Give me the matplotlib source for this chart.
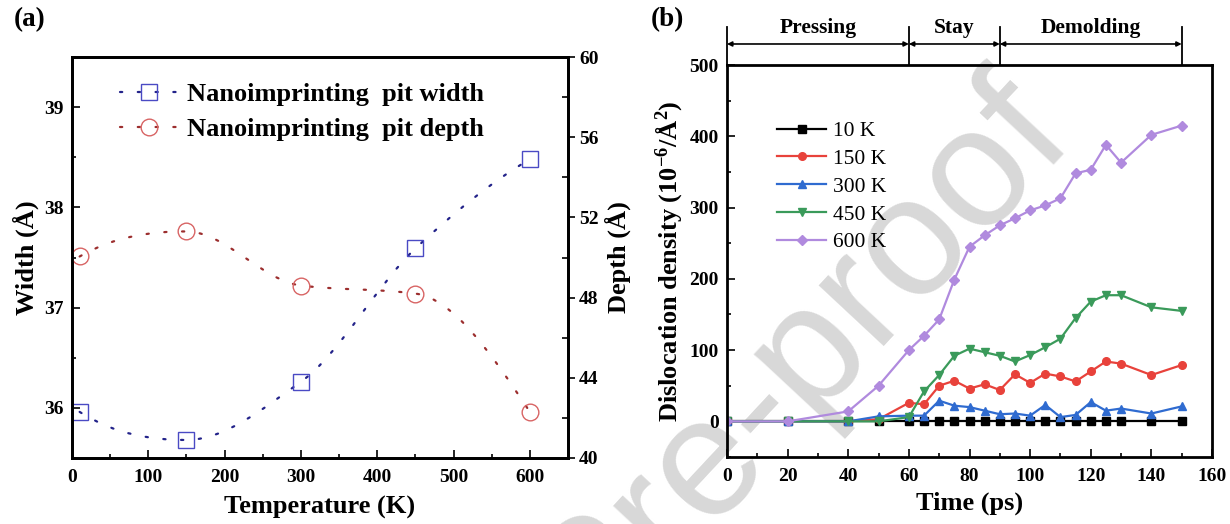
import numpy as np
import matplotlib
matplotlib.use('Agg')
import matplotlib.pyplot as plt
import matplotlib.transforms as mtransforms
from matplotlib.path import Path
from matplotlib.patches import PathPatch
from matplotlib.lines import Line2D

plt.rcParams['font.family'] = ['Liberation Serif', 'DejaVu Serif']
plt.rcParams['font.weight'] = 'bold'
plt.rcParams['axes.labelweight'] = 'bold'
plt.rcParams['mathtext.fontset'] = 'custom'
plt.rcParams['mathtext.rm'] = 'Liberation Serif:bold'
plt.rcParams['mathtext.bf'] = 'Liberation Serif:bold'
plt.rcParams['mathtext.it'] = 'Liberation Serif:bold:italic'


#####################################################################
# data (a)
#####################################################################
temp = [10, 150, 300, 450, 600]
pit_width = [35.96, 35.68, 36.26, 37.59, 38.48]
pit_depth = [50.05, 51.3, 48.6, 48.2, 42.3]

#####################################################################
# data (b)
#####################################################################
time_ps = [0, 20, 40, 50, 60, 65, 70, 75, 80, 85, 90, 95, 100, 105, 110,
           115, 120, 125, 130, 140, 150]
rho_10K = [0, 0, 0, 0, 0, 0, 0, 0, 0, 0, 0, 0, 0, 0, 0, 0, 0, 0, 0, 0, 0]
rho_150K = [0, 0, 0, 3, 26, 24, 50, 57, 46, 52, 44, 66, 54, 67, 63, 56, 70, 84, 81, 65, 79]
rho_300K = [0, 0, 0, 7, 8, 8, 29, 22, 20, 15, 10, 11, 8, 23, 6, 9, 27, 15, 18, 11, 21]
rho_450K = [0, 0, 0, 0, 6, 42, 65, 92, 102, 97, 92, 84, 93, 104, 116, 145, 168, 177, 177, 160, 155]
rho_600K = [0, 0, 14, 50, 100, 120, 143, 199, 245, 261, 275, 285, 296, 303, 313, 348, 353, 388, 363, 402, 415]
series_labels = ['10 K', '150 K', '300 K', '450 K', '600 K']
series_colors = ['#000000', '#e8423b', '#2f6bd0', '#3a9a5a', '#b08ade']
series_markers = ['s', 'o', '^', 'v', 'D']

phase_edges = [0, 60, 90, 150]
phase_names = ['Pressing', 'Stay', 'Demolding']


def pchip_slopes(x, y):
    h = np.diff(x)
    d = np.diff(y) / h
    n = len(x)
    m = np.zeros(n)
    for i in range(1, n - 1):
        if d[i - 1] * d[i] > 0:
            w1 = 2 * h[i] + h[i - 1]
            w2 = h[i] + 2 * h[i - 1]
            m[i] = (w1 + w2) / (w1 / d[i - 1] + w2 / d[i])
    for i, j, k in ((0, 0, 1), (n - 1, n - 2, n - 3)):
        s = ((2 * h[j] + h[k]) * d[j] - h[j] * d[k]) / (h[j] + h[k])
        if np.sign(s) != np.sign(d[j]):
            s = 0
        elif np.sign(d[j]) != np.sign(d[k]) and abs(s) > abs(3 * d[j]):
            s = 3 * d[j]
        m[i] = s
    return m


def spline_path(x, y):
    # smooth monotone connector drawn as cubic bezier segments
    x = np.asarray(x, float)
    y = np.asarray(y, float)
    m = pchip_slopes(x, y)
    verts = [(x[0], y[0])]
    codes = [Path.MOVETO]
    for i in range(len(x) - 1):
        h = x[i + 1] - x[i]
        verts += [(x[i] + h / 3, y[i] + m[i] * h / 3),
                  (x[i + 1] - h / 3, y[i + 1] - m[i + 1] * h / 3),
                  (x[i + 1], y[i + 1])]
        codes += [Path.CURVE4] * 3
    return Path(verts, codes)


def bold_ticks(ax):
    for lbl in ax.get_xticklabels() + ax.get_yticklabels():
        lbl.set_fontweight('bold')


W, H = 1230, 524
fig = plt.figure(figsize=(W / 100, H / 100), dpi=100)

# watermark
fig.text(799 / W, 1 - 359 / H, 'Pre-proof', rotation=47, fontsize=122,
         color='#d8d8d8', family='Liberation Sans', weight='normal',
         ha='center', va='center', rotation_mode='anchor', zorder=-10)

#####################################################################
# (a)
#####################################################################
ax1 = fig.add_axes([72 / W, 1 - 458 / H, 496 / W, 401 / H])
ax2 = ax1.twinx()
ax1.patch.set_visible(False)

dots = (0, (1, 7))
pw = PathPatch(spline_path(temp, pit_width), fill=False, edgecolor='#23238a',
               lw=1.6, linestyle=dots, capstyle='round')
ax1.add_patch(pw)
ax1.plot(temp, pit_width, linestyle='none', marker='s', ms=11, mfc='none',
         mec='#4a4ac4', mew=1.0)
pd_ = PathPatch(spline_path(temp, pit_depth), fill=False, edgecolor='#9c2e2e',
                lw=1.6, linestyle=dots, capstyle='round')
ax2.add_patch(pd_)
ax2.plot(temp, pit_depth, linestyle='none', marker='o', ms=12, mfc='none',
         mec='#d86464', mew=1.0)

ax1.set_xlim(0, 650)
ax1.set_ylim(35.5, 39.5)
ax2.set_ylim(40, 60)
ax1.set_xticks(np.arange(0, 601, 100))
ax1.set_xticks(np.arange(50, 650, 100), minor=True)
ax1.set_yticks([36, 37, 38, 39])
ax1.set_yticks(np.arange(35.5, 39.6, 0.5), minor=True)
ax2.set_yticks(np.arange(40, 61, 4))
ax2.set_yticks(np.arange(42, 60, 4), minor=True)

ax1.tick_params(which='both', direction='in', top=False, right=False,
                labelsize=14, width=1.2)
ax1.tick_params(axis='x', pad=8)
ax1.tick_params(axis='y', pad=6)
ax1.tick_params(which='major', length=6)
ax1.tick_params(which='minor', length=3)
ax2.tick_params(which='major', direction='out', length=5, width=1.2,
                labelsize=14, pad=3)
ax2.tick_params(which='minor', direction='in', length=4, width=1.2)
bold_ticks(ax1)
bold_ticks(ax2)

ax1.set_xlabel('Temperature (K)', fontsize=19, labelpad=7)
ax1.set_ylabel('Width (Å)', fontsize=19, labelpad=4)
ax2.set_ylabel('Depth (Å)', fontsize=19, labelpad=4)
for ax in (ax1, ax2):
    for s in ax.spines.values():
        s.set_linewidth(2)

h_w = Line2D([], [], color='#23238a', lw=1.6, linestyle=dots,
             dash_capstyle='round', marker='s', ms=11, mfc='none', mec='#4a4ac4')
h_d = Line2D([], [], color='#9c2e2e', lw=1.6, linestyle=dots,
             dash_capstyle='round', marker='o', ms=12, mfc='none', mec='#d86464')
ax1.legend([h_w, h_d], ['Nanoimprinting  pit width', 'Nanoimprinting  pit depth'],
           loc='upper left', bbox_to_anchor=(0.097, 0.936), frameon=False,
           borderpad=0, borderaxespad=0, handlelength=2.2, handletextpad=0.35,
           labelspacing=0.45, numpoints=1, prop={'size': 19, 'weight': 'bold'})

fig.text(30 / W, 1 - 20 / H, '(a)', fontsize=19.5, weight='bold',
         ha='center', va='center')

#####################################################################
# (b)
#####################################################################
ax3 = fig.add_axes([727 / W, 1 - 457 / H, 485 / W, 392 / H])
ax3.patch.set_visible(False)

all_rho = [rho_10K, rho_150K, rho_300K, rho_450K, rho_600K]
handles = []
for rho, lab, c, m in zip(all_rho, series_labels, series_colors, series_markers):
    ln, = ax3.plot(time_ps, rho, color=c, lw=1.6, marker=m, ms=5.5,
                   mec=c, mfc=c, label=lab)
    handles.append(ln)

ax3.set_xlim(0, 160)
ax3.set_ylim(-50, 500)
ax3.set_xticks(np.arange(0, 161, 20))
ax3.set_xticks(np.arange(10, 160, 20), minor=True)
ax3.set_yticks(np.arange(0, 501, 100))
ax3.set_yticks(np.arange(-50, 500, 100), minor=True)
ax3.tick_params(which='both', direction='in', top=False, right=False,
                labelsize=14, width=1.2)
ax3.tick_params(axis='x', pad=8)
ax3.tick_params(axis='y', pad=6)
ax3.tick_params(which='major', length=6)
ax3.tick_params(which='minor', length=3)
bold_ticks(ax3)
for s in ax3.spines.values():
    s.set_linewidth(2)

ax3.set_xlabel('Time (ps)', fontsize=19, labelpad=5)
ax3.set_ylabel('Dislocation density (10$^{-6}$/Å$^{2}$)', fontsize=19, labelpad=4)

ax3.legend(handles, series_labels, loc='upper left', bbox_to_anchor=(0.103, 0.857),
           frameon=False, borderpad=0, borderaxespad=0, handlelength=2.3,
           handletextpad=0.3, labelspacing=0.36, numpoints=1,
           prop={'size': 15.5, 'weight': 'normal'})

# process stages above the plot
trans = mtransforms.blended_transform_factory(ax3.transData, ax3.transAxes)
for e in phase_edges:
    ax3.plot([e, e], [1.0, 1.097], transform=trans, clip_on=False,
             color='k', lw=1.3)
for a, b, name in zip(phase_edges[:-1], phase_edges[1:], phase_names):
    ax3.annotate('', xy=(b, 1.0536), xytext=(a, 1.0536), xycoords=trans,
                 textcoords=trans,
                 arrowprops=dict(arrowstyle='<|-|>', color='k', lw=1.2,
                                 shrinkA=0, shrinkB=0, mutation_scale=7))
    ax3.text((a + b) / 2, 1.094, name, transform=trans, ha='center',
             va='center', fontsize=15.5, weight='bold')

fig.text(667 / W, 1 - 20 / H, '(b)', fontsize=19.5, weight='bold',
         ha='center', va='center')

plt.savefig('out.png', dpi=100)
